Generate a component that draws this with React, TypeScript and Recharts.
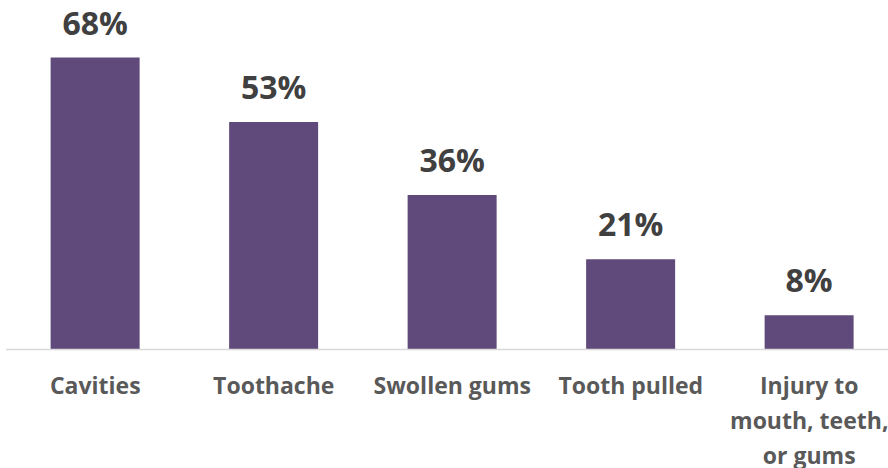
import { BarChart, Bar, XAxis, YAxis, LabelList } from 'recharts';

const categories = ['Cavities', 'Toothache', 'Swollen gums', 'Tooth pulled', 'Injury to\nmouth, teeth,\nor gums'];
const shares = [68, 53, 36, 21, 8];

const data = categories.map((name, i) => ({ name, value: shares[i] }));

const FONT = '"Open Sans", sans-serif';

function CategoryTick(props: any) {
  const { x, y, payload } = props;
  const lines = String(payload.value).split('\n');
  return (
    <text
      x={x}
      y={y}
      textAnchor="middle"
      fill="#595959"
      fontFamily={FONT}
      fontWeight={700}
      fontSize={23}
    >
      {lines.map((line, i) => (
        <tspan key={i} x={x} dy={i === 0 ? 36 : 35}>
          {line}
        </tspan>
      ))}
    </text>
  );
}

function ValueLabel(props: any) {
  const { x, y, width, value } = props;
  return (
    <text
      x={x + width / 2}
      y={y - 23}
      textAnchor="middle"
      fill="#404040"
      fontFamily={FONT}
      fontWeight={700}
      fontSize={32}
    >
      {value}%
    </text>
  );
}

export default function App() {
  return (
    <div style={{ position: 'absolute', left: 0, top: 0, width: 888, height: 468, overflow: 'hidden', background: '#fff' }}>
      <BarChart
        width={900}
        height={468}
        data={data}
        margin={{ top: 6, right: 1.5, left: 6, bottom: 0 }}
        barCategoryGap="25%"
      >
        <XAxis
          dataKey="name"
          interval={0}
          height={118.5}
          tickLine={false}
          axisLine={{ stroke: '#d9d9d9', strokeWidth: 1.5 }}
          tick={<CategoryTick />}
        />
        <YAxis hide domain={[0, 80]} />
        <Bar dataKey="value" fill="#604a7b" isAnimationActive={false}>
          <LabelList dataKey="value" content={<ValueLabel />} />
        </Bar>
      </BarChart>
    </div>
  );
}
